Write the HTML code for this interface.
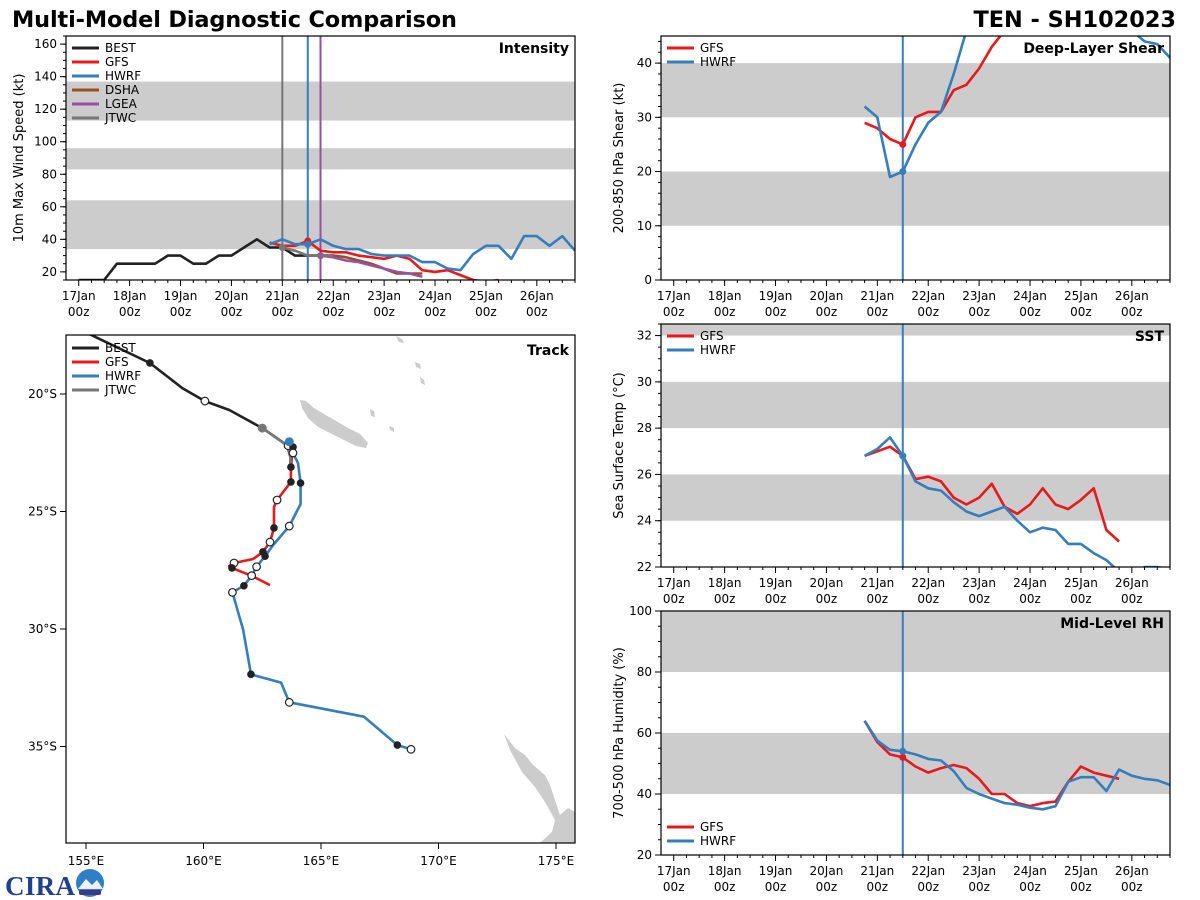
<!DOCTYPE html>
<html><head><meta charset="utf-8">
<style>
html,body{margin:0;padding:0;background:#fff;}
svg{display:block;font-family:"DejaVu Sans","Liberation Sans",sans-serif;}
</style></head>
<body>
<svg id="fig" width="1200" height="900" viewBox="0 0 1200 900" xmlns="http://www.w3.org/2000/svg">
<text x="12" y="27" font-size="22.4" font-weight="bold" textLength="445">Multi-Model Diagnostic Comparison</text>
<text x="1176" y="27" font-size="22.4" font-weight="bold" text-anchor="end">TEN - SH102023</text>
<g id="cira">
<text x="5" y="895" font-size="27" font-weight="bold" fill="#1f3f8f" font-family="Liberation Serif, serif" textLength="70">CIRA</text>
<circle cx="90" cy="883" r="14" fill="#2f7fc8"/>
<path d="M78 889 L86 879 L92 885 L97 880 L103 889 Z" fill="#f0f0f0"/>
<rect x="79" y="890" width="22" height="5" rx="2" fill="#3a3a8a"/>
</g>
</svg>
<script>
const NS="http://www.w3.org/2000/svg";
const svg=document.getElementById('fig');
function mk(tag,attrs,parent){const e=document.createElementNS(NS,tag);for(const k in attrs)e.setAttribute(k,attrs[k]);(parent||svg).appendChild(e);return e;}

// ---------- DATA ----------
const dayLabels=["17Jan","18Jan","19Jan","20Jan","21Jan","22Jan","23Jan","24Jan","25Jan","26Jan"];
const bestStart=0;
const bestInt=[15,15,15,25,25,25,25,30,30,25,25,30,30,35,40,35,35,30,30,30,30];
const gfsIntStart=90;
const gfsInt=[38,36,36,39,33,32,32,30,29,28,30,28,21,20,21,18,15,14,15];
const hwrfIntStart=90;
const hwrfInt=[37,40,37,37,40,36,34,34,31,30,30,30,26,26,22,21,31,36,36,28,42,42,36,42,33];
const dshaIntStart=108;
const dshaInt=[30,30,30,29,27,25,22,19,19,19];
const lgeaIntStart=108;
const lgeaInt=[30,30,29,27,26,24,22,20,19,17];
const jtwcIntStart=96;
const jtwcInt=[35,33,30,30,30];
const intTicks=[20,40,60,80,100,120,140,160];
const gfsShearStart=90;
const gfsShear=[29,28,26,25,30,31,31,35,36,39,43,46,48,50,52];
const hwrfShearStart=90;
const hwrfShear=[32,30,19,20,25,29,31,38,46,52,55,56,56,55,55,54,54,53,52,50,48,46,44,43.5,41];
const shearTicks=[0,10,20,30,40];
const gfsSstStart=90;
const gfsSst=[26.8,27.0,27.2,26.8,25.8,25.9,25.7,25.0,24.7,25.0,25.6,24.6,24.3,24.7,25.4,24.7,24.5,24.9,25.4,23.6,23.1];
const hwrfSstStart=90;
const hwrfSst=[26.8,27.1,27.6,26.8,25.7,25.4,25.3,24.8,24.4,24.2,24.4,24.6,24.0,23.5,23.7,23.6,23.0,23.0,22.6,22.3,21.8,21.5,22.0,22.0,21.9];
const sstTicks=[22,24,26,28,30,32];
const gfsRhStart=90;
const gfsRh=[64,57,53,52,49,47,48.5,49.5,48.5,45,40,40,37,36,37,37.5,44,49,47,46,45];
const hwrfRhStart=90;
const hwrfRh=[64,57.5,54.5,54,53,51.5,51,47.5,42,40,38.5,37,36.5,35.5,35,36,44,45.5,45.5,41,48,46,45,44.5,43];
const rhTicks=[20,40,60,80,100];
const bestLon=[154.2,157.72,159.1,160.06,161.1,162.5,163.54];
const bestLat=[17.0,18.68,19.75,20.3,20.68,21.45,22.17];
const bestMarkFilled=[false,true,false,false,false,false,false];
const bestMarkOpen=[false,false,false,true,false,false,false];
const jtwcLon=[162.5,163.54,163.7,163.7];
const jtwcLat=[21.45,22.17,22.7,23.1];
const gfsLon=[163.6,163.81,163.72,163.72,163.13,163.0,163.0,162.83,162.53,162.11,161.3,161.09,161.21,162.06,162.83];
const gfsLat=[22.2,22.26,23.11,23.74,24.51,24.81,25.7,26.3,26.72,27.02,27.19,27.32,27.4,27.74,28.13];
const gfsMark=["o","f","f","f","o","","f","o","f","","o","","f","",""];
const hwrfLon=[163.65,163.81,164.02,164.13,164.13,163.65,162.96,162.62,162.26,162.05,161.72,161.23,161.69,162.02,163.3,163.65,166.83,168.25,168.83];
const hwrfLat=[22.03,22.51,22.94,23.79,24.68,25.62,26.43,26.9,27.35,27.73,28.16,28.44,30.04,31.93,32.28,33.12,33.73,34.94,35.12];
const hwrfMark=["s","o","","f","","o","","f","o","o","f","o","","f","","o","","f","o"];
const lonTicks=[155,160,165,170,175];
const latTicks=[20,25,30,35];

const C={best:"#222222",gfs:"#e8191c",hwrf:"#357ebd",dsha:"#9a4f22",lgea:"#984ea3",jtwc:"#777777"};

function timePanel(o){
  const g=mk('g',{});
  
  
  const X0=o.x,X1=o.x+509,Y0=o.y,Y1=o.y+o.h;
  const xs=h=>X0+(h+6)*(509/240);
  const ys=v=>Y1-(v-o.ymin)/(o.ymax-o.ymin)*o.h;
  const clipId='clip'+o.name;
  const cp=mk('clipPath',{id:clipId},g);mk('rect',{x:X0,y:Y0,width:509,height:o.h},cp);
  const inner=mk('g',{'clip-path':`url(#${clipId})`},g);
  o.bands.forEach(b=>{const r=mk('rect',{x:X0,y:ys(b[1]),width:509,height:ys(b[0])-ys(b[1]),fill:"#cccccc"},inner);
    });
  (o.vlines||[]).forEach(v=>{const l=mk('line',{x1:xs(v[0]),x2:xs(v[0]),y1:Y0,y2:Y1,stroke:v[1],'stroke-width':2},inner);
    });
  o.series.forEach(s=>{
    const pts=s.vals.map((v,i)=>xs(s.start+i*6).toFixed(1)+','+ys(v).toFixed(1)).join(' ');
    const p=mk('polyline',{points:pts,fill:'none',stroke:s.c,'stroke-width':2.6,'stroke-linejoin':'round'},inner);
    
    if(s.dot!==undefined){const i=(s.dot-s.start)/6;
      const d=mk('circle',{cx:xs(s.dot),cy:ys(s.vals[i]),r:3.5,fill:s.c},inner);
      }
  });
  mk('rect',{x:X0,y:Y0,width:509,height:o.h,fill:'none',stroke:'#000','stroke-width':1.2},g);
  for(let h=0;h<=234;h+=6){const maj=h%24==0;
    mk('line',{x1:xs(h),x2:xs(h),y1:Y1,y2:Y1+(maj?6:3),stroke:'#000','stroke-width':1},g);}
  dayLabels.forEach((d,i)=>{
    const t=mk('text',{x:xs(i*24),y:Y1+20,'font-size':12,'text-anchor':'middle'},g);t.textContent=d;
    
    const t2=mk('text',{x:xs(i*24),y:Y1+36,'font-size':12,'text-anchor':'middle'},g);t2.textContent='00z';
    });
  for(let v=Math.ceil(o.ymin/o.minor)*o.minor;v<=o.ymax;v+=o.minor){
    mk('line',{x1:X0-3,x2:X0,y1:ys(v),y2:ys(v),stroke:'#000','stroke-width':1},g);}
  o.ticks.forEach(v=>{mk('line',{x1:X0-6,x2:X0,y1:ys(v),y2:ys(v),stroke:'#000','stroke-width':1},g);
    const t=mk('text',{x:X0-9,y:ys(v)+4,'font-size':12,'text-anchor':'end'},g);t.textContent=v;
    });
  const yl=mk('text',{x:0,y:0,'font-size':13,'text-anchor':'middle',transform:`translate(${o.ylx},${(Y0+Y1)/2}) rotate(-90)`},g);
  yl.textContent=o.ylabel;
  const tt=mk('text',{x:X1-6,y:Y0+17,'font-size':14,'font-weight':'bold','text-anchor':'end'},g);
  tt.textContent=o.title;
  legend(g,X0+6,o.legY!==undefined?o.legY:Y0+12,o.legend);
}
function legend(g,x,y,items){
  const lg=mk('g',{},g);
  
  items.forEach((it,i)=>{
    const e=mk('g',{},lg);
    
    
    mk('line',{x1:x,x2:x+27,y1:y+i*14,y2:y+i*14,stroke:it[1],'stroke-width':3},e);
    const t=mk('text',{x:x+33,y:y+i*14+4,'font-size':12},e);t.textContent=it[0];
  });
}

timePanel({name:'intensity-panel',x:66,y:36,h:244,ymin:15,ymax:165,minor:5,ticks:intTicks,
  bands:[[34,64],[83,96],[113,137]],vlines:[[96,C.jtwc],[108,C.hwrf],[114,C.lgea]],
  ylabel:'10m Max Wind Speed (kt)',ylx:23,title:'Intensity',
  series:[{n:'best',c:C.best,start:bestStart,vals:bestInt},
    {n:'gfs',c:C.gfs,start:gfsIntStart,vals:gfsInt,dot:108},
    {n:'hwrf',c:C.hwrf,start:hwrfIntStart,vals:hwrfInt,dot:108},
    {n:'dsha',c:C.dsha,start:dshaIntStart,vals:dshaInt},
    {n:'lgea',c:C.lgea,start:lgeaIntStart,vals:lgeaInt,dot:114},
    {n:'jtwc',c:C.jtwc,start:jtwcIntStart,vals:jtwcInt,dot:96}],
  legend:[["BEST",C.best],["GFS",C.gfs],["HWRF",C.hwrf],["DSHA",C.dsha],["LGEA",C.lgea],["JTWC",C.jtwc]]});
timePanel({name:'shear-panel',x:661,y:36,h:244,ymin:0,ymax:45,minor:2,ticks:shearTicks,
  bands:[[10,20],[30,40]],vlines:[[108,C.hwrf]],ylabel:'200-850 hPa Shear (kt)',ylx:623,title:'Deep-Layer Shear',
  series:[{n:'gfs',c:C.gfs,start:gfsShearStart,vals:gfsShear,dot:108},{n:'hwrf',c:C.hwrf,start:hwrfShearStart,vals:hwrfShear,dot:108}],
  legend:[["GFS",C.gfs],["HWRF",C.hwrf]]});
timePanel({name:'sst-panel',x:661,y:324,h:243,ymin:22,ymax:32.5,minor:0.5,ticks:sstTicks,
  bands:[[24,26],[28,30],[32,34]],vlines:[[108,C.hwrf]],ylabel:'Sea Surface Temp (°C)',ylx:623,title:'SST',
  series:[{n:'gfs',c:C.gfs,start:gfsSstStart,vals:gfsSst,dot:108},{n:'hwrf',c:C.hwrf,start:hwrfSstStart,vals:hwrfSst,dot:108}],
  legend:[["GFS",C.gfs],["HWRF",C.hwrf]]});
timePanel({name:'rh-panel',x:661,y:611,h:244,ymin:20,ymax:100,minor:5,ticks:rhTicks,
  bands:[[40,60],[80,100]],vlines:[[108,C.hwrf]],ylabel:'700-500 hPa Humidity (%)',ylx:623,title:'Mid-Level RH',
  legY:827,
  series:[{n:'gfs',c:C.gfs,start:gfsRhStart,vals:gfsRh,dot:108},{n:'hwrf',c:C.hwrf,start:hwrfRhStart,vals:hwrfRh,dot:108}],
  legend:[["GFS",C.gfs],["HWRF",C.hwrf]]});

(function(){
  const g=mk('g',{});
  
  
  const X0=66,Y0=335,W=509,H=508;
  const lx=lon=>86+(lon-155)*23.5;
  const ly=lat=>394+(lat-20)*23.5;
  const cp=mk('clipPath',{id:'cliptrack'},g);mk('rect',{x:X0,y:Y0,width:W,height:H},cp);
  const inner=mk('g',{'clip-path':'url(#cliptrack)'},g);
  const land=[
    "300,400 306,401 314,408 324,414 336,421 348,428 360,434 368,443 366,448 356,446 344,440 332,434 318,427 308,418 302,408",
    "396,336 402,339 404,343 399,342",
    "415,362 420,364 421,369 416,367","420,377 424,380 425,385 421,383",
    "370,409 374,411 375,417 371,416","389,426 394,428 394,432 390,430",
    "504,734 515,748 525,755 533,765 545,775 550,785 555,800 560,815 568,808 575,812 575,843 540,843 552,832 555,820 545,802 535,787 522,772 510,750"];
  land.forEach(p=>{const e=mk('polygon',{points:p,fill:'#cccccc'},inner);
    });
  function track(n,lons,lats,c){
    const pts=lons.map((v,i)=>lx(v).toFixed(1)+','+ly(lats[i]).toFixed(1)).join(' ');
    const p=mk('polyline',{points:pts,fill:'none',stroke:c,'stroke-width':2.6,'stroke-linejoin':'round'},inner);
    
  }
  function marks(n,lons,lats,types,c){
    lons.forEach((v,i)=>{const t=types[i];if(!t)return;
      let attrs={cx:lx(v),cy:ly(lats[i]),r:3.8};
      if(t=='f'){attrs.fill='#222';}
      else if(t=='o'){attrs.fill='#fff';attrs.stroke='#222';attrs['stroke-width']=1.2;}
      else {attrs.fill=c;attrs.r=4.5;}
      const m=mk('circle',attrs,inner);
      });
  }
  track('best',bestLon,bestLat,C.best);
  track('gfs',gfsLon,gfsLat,C.gfs);
  track('hwrf',hwrfLon,hwrfLat,C.hwrf);
  track('jtwc',jtwcLon,jtwcLat,C.jtwc);
  marks('best',bestLon,bestLat,bestMarkFilled.map((f,i)=>f?'f':(bestMarkOpen[i]?'o':'')),C.best);
  const jm=mk('circle',{cx:lx(jtwcLon[0]),cy:ly(jtwcLat[0]),r:4.5,fill:C.jtwc},inner);
  
  marks('gfs',gfsLon,gfsLat,gfsMark,C.gfs);
  marks('hwrf',hwrfLon,hwrfLat,hwrfMark,C.hwrf);
  mk('rect',{x:X0,y:Y0,width:W,height:H,fill:'none',stroke:'#000','stroke-width':1.2},g);
  lonTicks.forEach(v=>{mk('line',{x1:lx(v),x2:lx(v),y1:Y0+H,y2:Y0+H+6,stroke:'#000'},g);
    const t=mk('text',{x:lx(v),y:Y0+H+22,'font-size':12,'text-anchor':'middle'},g);t.textContent=v+'°E';
    });
  latTicks.forEach(v=>{mk('line',{x1:X0-6,x2:X0,y1:ly(v),y2:ly(v),stroke:'#000'},g);
    const t=mk('text',{x:X0-9,y:ly(v)+4,'font-size':12,'text-anchor':'end'},g);t.textContent=v+'°S';
    });
  const tt=mk('text',{x:X0+W-6,y:Y0+20,'font-size':14,'font-weight':'bold','text-anchor':'end'},g);
  tt.textContent='Track';
  legend(g,X0+6,Y0+13,[["BEST",C.best],["GFS",C.gfs],["HWRF",C.hwrf],["JTWC",C.jtwc]]);
})();
svg.appendChild(document.getElementById('cira'));
</script>
</body></html>
